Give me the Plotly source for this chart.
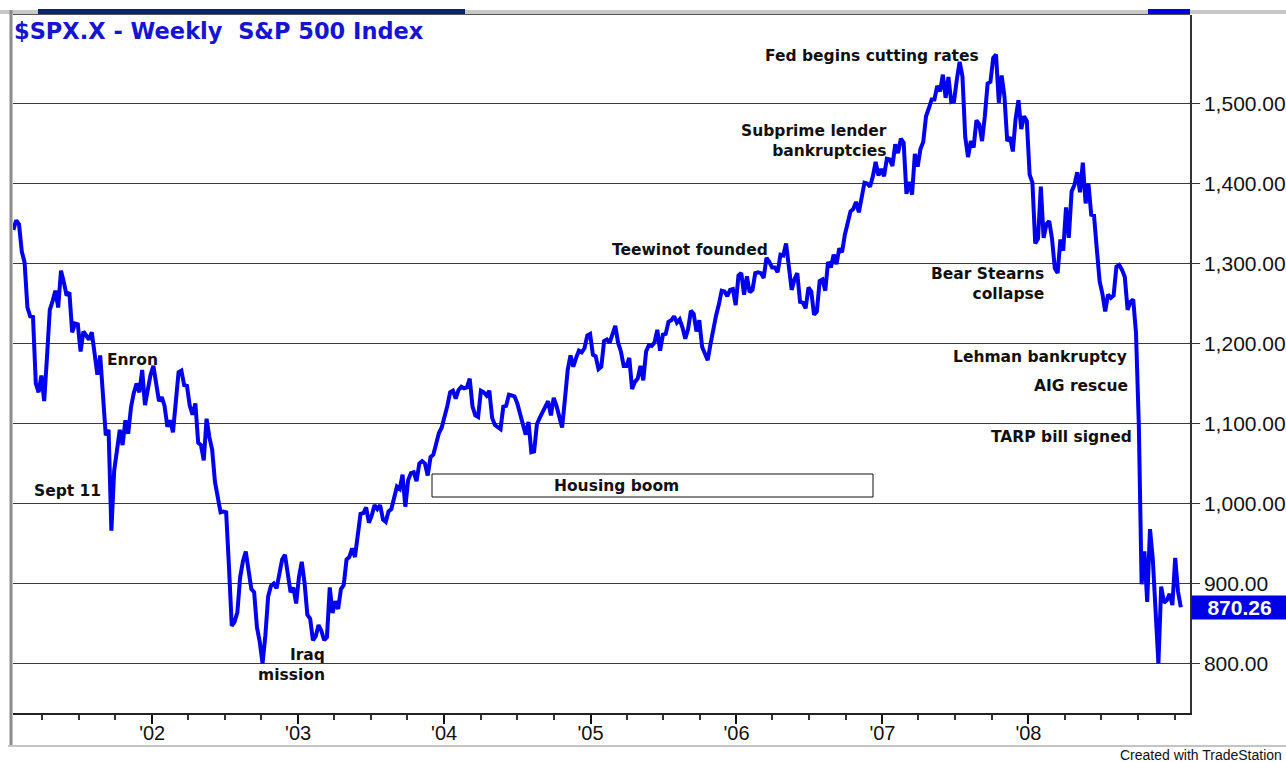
import pandas as pd
import plotly.graph_objects as go

# ---------------- data (weekly closes) ----------------
close_2001 = [1342, 1354, 1349, 1315, 1301, 1245, 1234, 1233, 1150, 1139, 1160,
              1128, 1183, 1242, 1253, 1266, 1245, 1291, 1277, 1260, 1264, 1214,
              1225, 1224, 1190, 1215, 1210, 1205, 1214, 1190, 1161, 1185, 1134,
              1085, 1092, 966, 1041, 1072, 1092, 1073, 1104, 1087, 1120, 1138,
              1150, 1139, 1167, 1123, 1144, 1161]
close_2002 = [1172, 1146, 1128, 1133, 1122, 1096, 1104, 1089, 1131, 1164, 1166,
              1148, 1147, 1122, 1111, 1125, 1076, 1073, 1054, 1106, 1083, 1067,
              1027, 1007, 989, 990, 989, 921, 847, 852, 864, 908, 928, 940, 916,
              893, 889, 845, 827, 800, 835, 884, 897, 900, 894, 910, 930, 936,
              912, 889, 895, 875]
close_2003 = [908, 927, 901, 861, 856, 829, 834, 848, 841, 829, 833, 895, 863,
              878, 868, 893, 898, 930, 933, 944, 933, 964, 987, 988, 995, 976,
              985, 998, 993, 998, 980, 977, 990, 993, 1008, 1021, 1018, 1036,
              996, 1029, 1038, 1039, 1028, 1050, 1053, 1050, 1035, 1058, 1061,
              1074, 1088, 1095]
close_2004 = [1108, 1122, 1139, 1141, 1131, 1142, 1146, 1144, 1145, 1156, 1121,
              1110, 1108, 1141, 1139, 1135, 1141, 1107, 1098, 1095, 1093, 1121,
              1122, 1136, 1135, 1134, 1125, 1112, 1101, 1086, 1102, 1064, 1065,
              1099, 1107, 1114, 1123, 1128, 1110, 1132, 1122, 1108, 1095, 1130,
              1167, 1185, 1171, 1182, 1191, 1189, 1194, 1210, 1212]
close_2005 = [1186, 1184, 1168, 1171, 1203, 1205, 1201, 1211, 1222, 1201, 1190,
              1172, 1172, 1182, 1143, 1152, 1156, 1172, 1154, 1190, 1198, 1197,
              1201, 1217, 1191, 1211, 1212, 1227, 1229, 1234, 1226, 1230, 1220,
              1206, 1218, 1241, 1237, 1215, 1229, 1196, 1187, 1179, 1199, 1220,
              1235, 1249, 1266, 1265, 1259, 1267, 1268, 1248]
close_2006 = [1285, 1288, 1261, 1284, 1264, 1267, 1288, 1289, 1288, 1282, 1307,
              1302, 1295, 1295, 1289, 1311, 1310, 1325, 1291, 1267, 1280, 1288,
              1252, 1251, 1244, 1270, 1265, 1236, 1240, 1278, 1280, 1266, 1302,
              1295, 1311, 1299, 1319, 1314, 1336, 1349, 1365, 1368, 1377, 1364,
              1380, 1401, 1400, 1396, 1409, 1427, 1410, 1418]
close_2007 = [1409, 1431, 1430, 1422, 1449, 1438, 1456, 1451, 1387, 1402, 1386,
              1437, 1421, 1443, 1452, 1484, 1494, 1505, 1505, 1522, 1515, 1536,
              1507, 1533, 1502, 1503, 1530, 1552, 1534, 1458, 1433, 1453, 1445,
              1479, 1474, 1453, 1484, 1525, 1527, 1557, 1561, 1501, 1535, 1509,
              1453, 1458, 1440, 1481, 1504, 1468, 1484, 1478]
close_2008 = [1411, 1401, 1325, 1331, 1396, 1332, 1349, 1353, 1331, 1294, 1288,
              1330, 1316, 1370, 1332, 1390, 1398, 1414, 1389, 1426, 1375, 1400,
              1361, 1360, 1318, 1278, 1262, 1240, 1261, 1257, 1260, 1296, 1298,
              1292, 1283, 1242, 1252, 1255, 1213, 1099, 899, 940, 877, 968, 930,
              873, 800, 896, 876, 879, 887, 873]
close_2009 = [932, 890, 870.26]

closes = (close_2001 + close_2002 + close_2003 + close_2004 + close_2005 +
          close_2006 + close_2007 + close_2008 + close_2009)
week_dates = pd.date_range("2001-01-19", periods=len(closes), freq="W-FRI")

year_ticks = ["2002-01-01", "2003-01-01", "2004-01-01", "2005-01-01",
              "2006-01-01", "2007-01-01", "2008-01-01"]
year_labels = ["'02", "'03", "'04", "'05", "'06", "'07", "'08"]
quarter_ticks = [d.strftime("%Y-%m-%d") for d in
                 pd.date_range("2001-04-01", "2009-01-01", freq="QS")]
price_ticks = [800, 900, 1000, 1100, 1200, 1300, 1400, 1500]

events = [
    ("Enron", 105, 360, "left"),
    ("Sept 11", 103, 491, "right"),
    ("Iraq<br>mission", 327, 665, "right"),
    ("Teewinot founded", 690, 250, "center"),
    ("Subprime lender<br>bankruptcies", 889, 141, "right"),
    ("Fed begins cutting rates", 872, 56, "center"),
    ("Bear Stearns<br>collapse", 1046, 284, "right"),
    ("Lehman bankruptcy", 1129, 357, "right"),
    ("AIG rescue", 1130, 386, "right"),
    ("TARP bill signed", 1134, 437, "right"),
]

# ---------------- layout helpers ----------------
W, H = 1286, 762
ML, MR, MT, MB = 13, 96, 15, 49
PW, PH = W - ML - MR, H - MT - MB


def fx(px):
    return (px - ML) / PW


def fy(py):
    return (H - MB - py) / PH


LINE_BLUE = "#0000f0"
ANN_FONT = dict(family="DejaVu Sans", size=15.5, color="#111111", weight="bold")

fig = go.Figure()
fig.add_trace(go.Scatter(
    x=week_dates, y=closes, mode="lines",
    line=dict(color=LINE_BLUE, width=4),
    hoverinfo="x+y", showlegend=False,
))

annotations = []
for text, x, y, anchor in events:
    annotations.append(dict(
        text=text, x=fx(x), y=fy(y), xref="paper", yref="paper",
        xanchor=anchor, yanchor="middle", align=anchor,
        showarrow=False, font=ANN_FONT,
    ))

# Housing boom label
annotations.append(dict(
    text="Housing boom", x=fx(616), y=fy(486), xref="paper", yref="paper",
    xanchor="center", yanchor="middle", showarrow=False, font=ANN_FONT,
))

# Title
annotations.append(dict(
    text="$SPX.X - Weekly  S&P 500 Index", x=fx(12), y=fy(31),
    xref="paper", yref="paper", xanchor="left", yanchor="middle",
    showarrow=False,
    font=dict(family="DejaVu Sans", size=22.5, color="#1414d2", weight="bold"),
))

# Last price tag
annotations.append(dict(
    text="<b>%.2f</b>" % closes[-1], x=1, y=closes[-1], xref="paper", yref="y",
    xanchor="left", yanchor="middle", showarrow=False, xshift=1,
    width=95, height=23, align="center", borderpad=0,
    bgcolor="#0000e6",
    font=dict(family="Liberation Sans, Arial", size=21, color="white"),
))

# Footer
annotations.append(dict(
    text="Created with TradeStation", x=fx(1284), y=fy(755),
    xref="paper", yref="paper", xanchor="right", yanchor="middle",
    showarrow=False,
    font=dict(family="Liberation Sans, Arial", size=14, color="#111111"),
))

shapes = [
    # top strip and scroll markers
    dict(type="line", xref="paper", yref="paper", x0=fx(0), x1=fx(W),
         y0=fy(12), y1=fy(12), line=dict(color="#c8c8c8", width=4)),
    dict(type="rect", xref="paper", yref="paper", x0=fx(38), x1=fx(465),
         y0=fy(9), y1=fy(14), fillcolor="#0c2470", line=dict(width=0)),
    dict(type="rect", xref="paper", yref="paper", x0=fx(1148), x1=fx(1190),
         y0=fy(9), y1=fy(14), fillcolor="#0000e0", line=dict(width=0)),
    dict(type="line", xref="paper", yref="paper", x0=fx(ML), x1=fx(1190),
         y0=fy(14.5), y1=fy(14.5), line=dict(color="#555555", width=1)),
    # outer frame
    dict(type="line", xref="paper", yref="paper", x0=fx(11), x1=fx(11),
         y0=fy(10), y1=fy(746), line=dict(color="#8c8c8c", width=3)),
    dict(type="line", xref="paper", yref="paper", x0=fx(8), x1=fx(W),
         y0=fy(746), y1=fy(746), line=dict(color="#c4c4c4", width=2)),
    # Housing boom box
    dict(type="rect", xref="paper", yref="paper", x0=fx(432), x1=fx(873),
         y0=fy(474), y1=fy(497), line=dict(color="#111111", width=1),
         fillcolor="rgba(0,0,0,0)"),
]

fig.update_layout(
    width=W, height=H,
    margin=dict(l=ML, r=MR, t=MT, b=MB, pad=0, autoexpand=False),
    paper_bgcolor="white", plot_bgcolor="white",
    showlegend=False,
    annotations=annotations,
    shapes=shapes,
    xaxis=dict(
        type="date", range=["2001-01-18", "2009-02-08"],
        automargin=False,
        tickmode="array", tickvals=year_ticks, ticktext=year_labels,
        ticks="outside", ticklen=9, tickwidth=1.5, tickcolor="#111111",
        ticklabelstandoff=-8,
        showgrid=False, zeroline=False,
        showline=True, linecolor="#222222", linewidth=1.5,
        tickfont=dict(family="Liberation Sans, Arial", size=20, color="#111111"),
        minor=dict(tickmode="array", tickvals=quarter_ticks, ticks="outside",
                   ticklen=5, tickwidth=1.5, tickcolor="#333333", showgrid=False),
        fixedrange=True,
    ),
    yaxis=dict(
        side="right", range=[738.1, 1610.6],
        automargin=False,
        tickmode="array", tickvals=price_ticks,
        tickformat=",.2f",
        ticks="outside", ticklen=8, tickwidth=1, tickcolor="#333333",
        showgrid=True, gridcolor="#3c3c3c", gridwidth=1,
        zeroline=False,
        showline=True, linecolor="#333333", linewidth=1.5,
        tickfont=dict(family="Liberation Sans, Arial", size=21, color="#111111"),
        fixedrange=True,
    ),
)

fig.write_html(
    "out.html",
    config={"displayModeBar": False},
    post_script="document.body.style.margin='0px';document.body.style.overflow='hidden';",
)
